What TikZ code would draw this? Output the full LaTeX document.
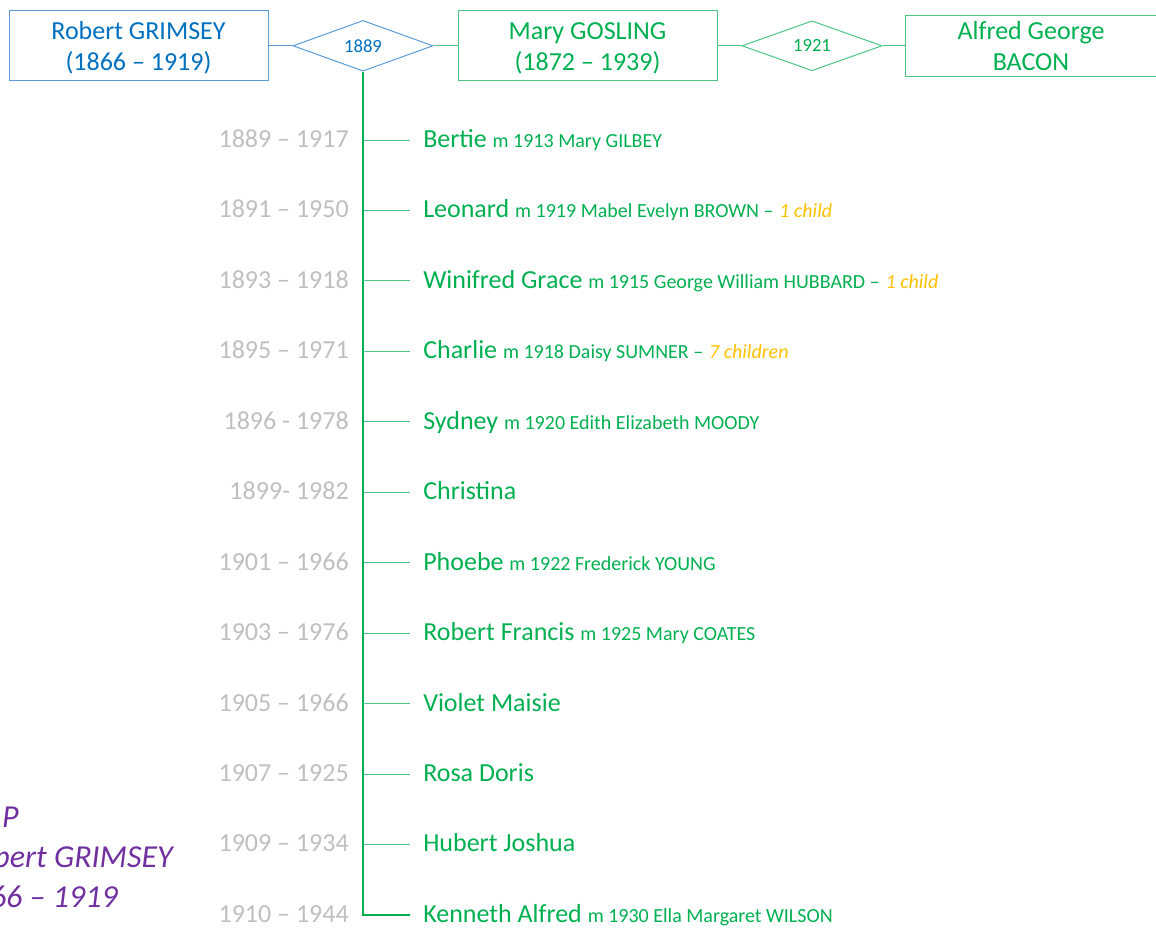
\documentclass[tikz,border=0pt]{standalone}
\usepackage{fontspec}
\setmainfont{Carlito}
\usetikzlibrary{positioning,shapes.geometric}
\definecolor{kinblue}{HTML}{0070C0}
\definecolor{kinblueline}{HTML}{5B9BD5}
\definecolor{kingreen}{HTML}{00B050}
\definecolor{kingreenline}{HTML}{4CC483}
\definecolor{kingray}{HTML}{BFBFBF}
\definecolor{kinorange}{HTML}{FFC000}
\definecolor{kinpurple}{HTML}{7030A0}
\tikzset{
  person/.style   = {draw=kingreenline, line width=0.75pt, align=center, inner sep=0pt,
                     text=kingreen, font=\fontsize{19.5}{23.25}\selectfont,
                     minimum width=194.25pt, minimum height=52.5pt},
  wedding/.style  = {diamond, draw=kingreenline, line width=0.75pt, inner sep=0pt,
                     text=kingreen, font=\fontsize{14}{16}\selectfont,
                     minimum width=105pt, minimum height=35.25pt},
  couple/.style   = {draw=kingreenline, line width=0.75pt},
  stemline/.style = {draw=kingreen, line width=0.9pt},
  branch/.style   = {draw=kingreenline, line width=0.75pt},
  kid/.style      = {anchor=west, inner xsep=9.75pt, inner ysep=0pt, text height=11.2pt, text depth=0pt,
                     text=kingreen, font=\fontsize{19.5}{23.25}\selectfont},
  life/.style     = {anchor=east, inner sep=0pt, text height=11.2pt, text depth=0pt,
                     text=kingray, font=\fontsize{19.5}{23.25}\selectfont},
  head/.style     = {anchor=base east, inner sep=0pt, text=kinpurple,
                     font=\fontsize{24}{30}\selectfont\itshape},
}

\begin{document}
\begin{tikzpicture}[x=0.75pt,y=-0.75pt]
  \useasboundingbox (0,0) rectangle (1156,929);
  \clip (0,0) rectangle (1156,929);

  % ---- parents ----
  \node[person, draw=kinblueline, text=kinblue] (robert) at (138.5,45.8) {\strut Robert GRIMSEY\\(1866 -- 1919)};
  \node[wedding, draw=kinblueline, text=kinblue, right=18pt of robert] (d1889) {1889};
  \node[person, right=18pt of d1889] (mary) {\strut Mary GOSLING\\(1872 -- 1939)};
  \node[wedding, right=18pt of mary] (d1921) {1921};
  \node[person, minimum width=189pt, minimum height=45.75pt, right=16.5pt of d1921] (alfred) {Alfred George\\BACON};
  \draw[couple, draw=kinblueline] (robert) -- (d1889);
  \draw[couple] (d1889) -- (mary);
  \draw[couple] (mary) -- (d1921);
  \draw[couple] (d1921) -- (alfred);

  % ---- children ----
  \foreach \i/\yrs/\who/\wedd/\kin in {%
    1/{1889 – 1917}/{Bertie}/{m 1913 Mary GILBEY}/{},
    2/{1891 – 1950}/{Leonard}/{m 1919 Mabel Evelyn BROWN –}/{1 child},
    3/{1893 – 1918}/{Winifred Grace}/{m 1915 George William HUBBARD –}/{1 child},
    4/{1895 – 1971}/{Charlie}/{m 1918 Daisy SUMNER –}/{7 children},
    5/{1896 - 1978}/{Sydney}/{m 1920 Edith Elizabeth MOODY}/{},
    6/{1899- 1982}/{Christina}/{}/{},
    7/{1901 – 1966}/{Phoebe}/{m 1922 Frederick YOUNG}/{},
    8/{1903 – 1976}/{Robert Francis}/{m 1925 Mary COATES}/{},
    9/{1905 – 1966}/{Violet Maisie}/{}/{},
    10/{1907 – 1925}/{Rosa Doris}/{}/{},
    11/{1909 – 1934}/{Hubert Joshua}/{}/{},
    12/{1910 – 1944}/{Kenneth Alfred}/{m 1930 Ella Margaret WILSON}/{}}
  {
    \node[kid] (k\i) at (410,{140+(\i-1)*70.45}) {\who\ {\fontsize{15}{18}\selectfont\wedd}\ {\fontsize{15}{18}\selectfont\itshape\color{kinorange}\kin}};
    \node[life] (y\i) at (349,{140+(\i-1)*70.45}) {\yrs};
  }
  \draw[stemline] (d1889.south) |- (k12.west);
  \foreach \i in {1,...,11} {
    \draw[branch] (d1889.south |- k\i.west) -- (k\i.west);
  }

  % ---- family heading, cut at the left edge ----
  \node[head] (h1) at (19,827) {P};
  \node[head] (h2) at (173,867) {bert GRIMSEY};
  \node[head] (h3) at (118,907) {66 – 1919};
\end{tikzpicture}
\end{document}
